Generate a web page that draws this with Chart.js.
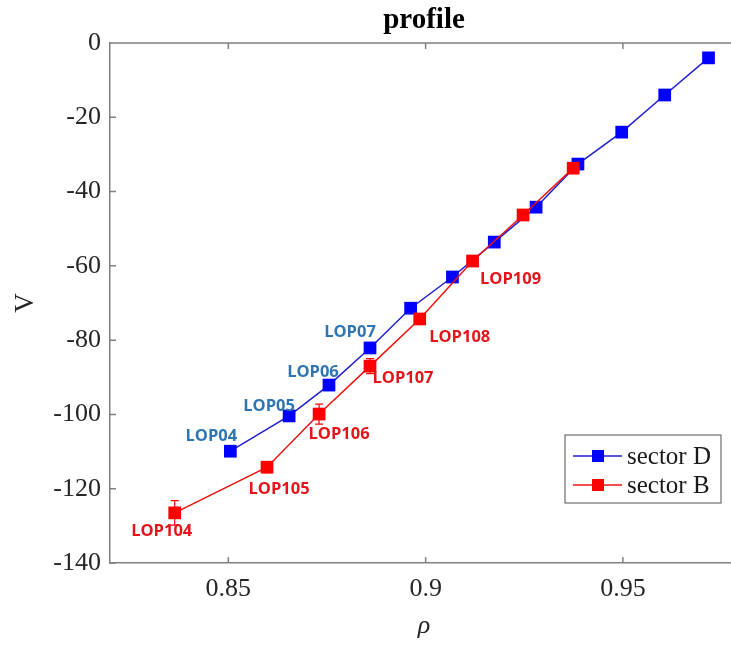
<!DOCTYPE html>
<html>
<head>
<meta charset="utf-8">
<title>profile</title>
<script src="https://cdn.jsdelivr.net/npm/chart.js@4.4.0/dist/chart.umd.min.js"></script>
<style>
  html, body { margin: 0; padding: 0; background: #fff; overflow: hidden; }
  #wrap { width: 731px; height: 645px; }
  canvas { display: block; }
</style>
</head>
<body>
<div id="wrap"><canvas id="profileChart" width="731" height="645"></canvas></div>
<script>
// axis ticks
const xTicks = [0.85, 0.9, 0.95];
const xTickLabels = ['0.85', '0.9', '0.95'];
const yTicks = [0, -20, -40, -60, -80, -100, -120, -140];
const yTickLabels = ['0', '-20', '-40', '-60', '-80', '-100', '-120', '-140'];

// sector D
const rhoD = [0.8505, 0.8654, 0.8755, 0.8859, 0.8962, 0.9068, 0.9174, 0.9280, 0.9386, 0.9497, 0.9606, 0.9717];
const vD = [-109.9, -100.4, -92.1, -82.1, -71.4, -63.0, -53.6, -44.2, -32.6, -24.0, -14.0, -4.0];
const namesD = ['LOP04', 'LOP05', 'LOP06', 'LOP07', '', '', '', '', '', '', '', ''];

// sector B (with error)
const rhoB = [0.8364, 0.8598, 0.8730, 0.8859, 0.8985, 0.9119, 0.9247, 0.9374];
const vB = [-126.5, -114.2, -99.9, -87.0, -74.3, -58.7, -46.3, -33.7];
const errB = [3.3, 1.5, 2.7, 2.0, 0.8, 0.8, 0.8, 0.8];
const namesB = ['LOP104', 'LOP105', 'LOP106', 'LOP107', 'LOP108', 'LOP109', '', ''];

// text placement next to each point (dx, dy of text centre)
const offsetsD = [[-19, -15], [-20, -10], [-16, -13], [-20, -16]];
const offsetsB = [[-13, 18], [12, 22], [20, 20], [33, 12], [40, 18], [38, 18]];

const SERIF = '"Liberation Serif", "Times New Roman", serif';
const AXIS_GRAY = '#808080';
const BLUE = '#0000ff';
const RED = '#ff0000';

function toPoints(xs, ys) {
  return xs.map((x, i) => ({ x: x, y: ys[i] }));
}

// frame: top line and inward ticks
const framePlugin = {
  id: 'frame',
  afterDraw(chart) {
    const ctx = chart.ctx;
    const a = chart.chartArea;
    const xs = chart.scales.x;
    const ys = chart.scales.y;
    ctx.save();
    ctx.strokeStyle = AXIS_GRAY;
    ctx.lineWidth = 1.5;
    ctx.beginPath();
    ctx.moveTo(a.left, a.top);
    ctx.lineTo(a.right, a.top);
    xTicks.forEach(v => {
      const px = xs.getPixelForValue(v);
      ctx.moveTo(px, a.bottom);
      ctx.lineTo(px, a.bottom - 6);
      ctx.moveTo(px, a.top);
      ctx.lineTo(px, a.top + 6);
    });
    yTicks.forEach(v => {
      const py = ys.getPixelForValue(v);
      ctx.moveTo(a.left, py);
      ctx.lineTo(a.left + 6, py);
    });
    ctx.stroke();

    // title and axis titles
    ctx.fillStyle = '#000';
    ctx.textAlign = 'center';
    ctx.textBaseline = 'middle';
    ctx.font = 'bold 29px ' + SERIF;
    ctx.fillText('profile', 424, 21);

    ctx.fillStyle = '#262626';
    ctx.font = 'italic 26px ' + SERIF;
    ctx.fillText('\u03c1', 424, 626);

    ctx.save();
    ctx.translate(26, 303);
    ctx.rotate(-Math.PI / 2);
    ctx.font = '27px ' + SERIF;
    ctx.fillText('V', 0, 0);
    ctx.restore();
    ctx.restore();
  }
};

// vertical error bars for sector B
const errorPlugin = {
  id: 'errorBars',
  afterDatasetsDraw(chart) {
    const ctx = chart.ctx;
    const ys = chart.scales.y;
    const meta = chart.getDatasetMeta(1);
    ctx.save();
    ctx.strokeStyle = RED;
    ctx.lineWidth = 1.2;
    meta.data.forEach((pt, i) => {
      const top = ys.getPixelForValue(vB[i] + errB[i]);
      const bot = ys.getPixelForValue(vB[i] - errB[i]);
      ctx.beginPath();
      ctx.moveTo(pt.x, top);
      ctx.lineTo(pt.x, bot);
      ctx.moveTo(pt.x - 4, top);
      ctx.lineTo(pt.x + 4, top);
      ctx.moveTo(pt.x - 4, bot);
      ctx.lineTo(pt.x + 4, bot);
      ctx.stroke();
    });
    ctx.restore();
  }
};

// LOP names beside the markers
const namePlugin = {
  id: 'pointNames',
  afterDatasetsDraw(chart) {
    const ctx = chart.ctx;
    ctx.save();
    ctx.font = 'bold 16.5px "Open Sans", "Noto Sans", sans-serif';
    ctx.textAlign = 'center';
    ctx.textBaseline = 'middle';
    const groups = [
      { meta: chart.getDatasetMeta(0), names: namesD, offs: offsetsD, color: '#2e75b6' },
      { meta: chart.getDatasetMeta(1), names: namesB, offs: offsetsB, color: '#e3151b' }
    ];
    groups.forEach(g => {
      ctx.fillStyle = g.color;
      g.meta.data.forEach((pt, i) => {
        if (!g.names[i]) return;
        const o = g.offs[i];
        ctx.fillText(g.names[i], pt.x + o[0], pt.y + o[1]);
      });
    });
    ctx.restore();
  }
};

// boxed legend in the lower right corner
const legendPlugin = {
  id: 'boxLegend',
  afterDraw(chart) {
    const ctx = chart.ctx;
    const items = chart.data.datasets;
    const x0 = 565, y0 = 435, w = 156, h = 68;
    ctx.save();
    ctx.fillStyle = '#fff';
    ctx.fillRect(x0, y0, w, h);
    ctx.strokeStyle = '#6e6e6e';
    ctx.lineWidth = 1.2;
    ctx.strokeRect(x0, y0, w, h);
    ctx.font = '25px ' + SERIF;
    ctx.textBaseline = 'middle';
    ctx.textAlign = 'left';
    items.forEach((ds, i) => {
      const cy = y0 + 21 + i * 29;
      ctx.strokeStyle = ds.borderColor;
      ctx.lineWidth = 1.5;
      ctx.beginPath();
      ctx.moveTo(x0 + 8, cy);
      ctx.lineTo(x0 + 57, cy);
      ctx.stroke();
      ctx.fillStyle = ds.pointBackgroundColor;
      ctx.fillRect(x0 + 27, cy - 6, 12, 12);
      ctx.fillStyle = '#1a1a1a';
      ctx.fillText(ds.label, x0 + 62, cy + 1);
    });
    ctx.restore();
  }
};

const chart = new Chart(document.getElementById('profileChart').getContext('2d'), {
  type: 'line',
  data: {
    datasets: [
      {
        label: 'sector D',
        data: toPoints(rhoD, vD),
        borderColor: '#1f1fd0',
        borderWidth: 1.5,
        pointStyle: 'rect',
        pointRadius: 9,
        pointBackgroundColor: BLUE,
        pointBorderColor: BLUE,
        pointBorderWidth: 0,
        tension: 0,
        order: 1
      },
      {
        label: 'sector B',
        data: toPoints(rhoB, vB),
        borderColor: '#f01010',
        borderWidth: 1.5,
        pointStyle: 'rect',
        pointRadius: 9,
        pointBackgroundColor: RED,
        pointBorderColor: RED,
        pointBorderWidth: 0,
        tension: 0,
        order: 0
      }
    ]
  },
  options: {
    responsive: false,
    animation: false,
    layout: { autoPadding: false, padding: { top: 43, right: 0, left: 0, bottom: 0 } },
    plugins: {
      legend: { display: false },
      tooltip: { enabled: false }
    },
    scales: {
      x: {
        type: 'linear',
        min: 0.82,
        max: 0.9774,
        afterFit: s => { s.height = 82; s.paddingLeft = 0; s.paddingRight = 0; },
        afterBuildTicks: s => { s.ticks = xTicks.map(v => ({ value: v })); },
        grid: { display: false, drawTicks: false },
        border: { display: true, color: AXIS_GRAY, width: 1.5 },
        ticks: {
          padding: 11,
          color: '#262626',
          font: { family: SERIF, size: 26 },
          callback: (v) => xTickLabels[xTicks.indexOf(v)]
        }
      },
      y: {
        type: 'linear',
        min: -140,
        max: 0,
        afterFit: s => { s.width = 110; s.paddingTop = 0; s.paddingBottom = 0; },
        afterBuildTicks: s => { s.ticks = yTicks.map(v => ({ value: v })); },
        grid: { display: false, drawTicks: false },
        border: { display: true, color: AXIS_GRAY, width: 1.5 },
        ticks: {
          padding: 9,
          color: '#262626',
          font: { family: SERIF, size: 26 },
          callback: (v) => yTickLabels[yTicks.indexOf(v)]
        }
      }
    }
  },
  plugins: [framePlugin, errorPlugin, namePlugin, legendPlugin]
});
</script>
</body>
</html>
